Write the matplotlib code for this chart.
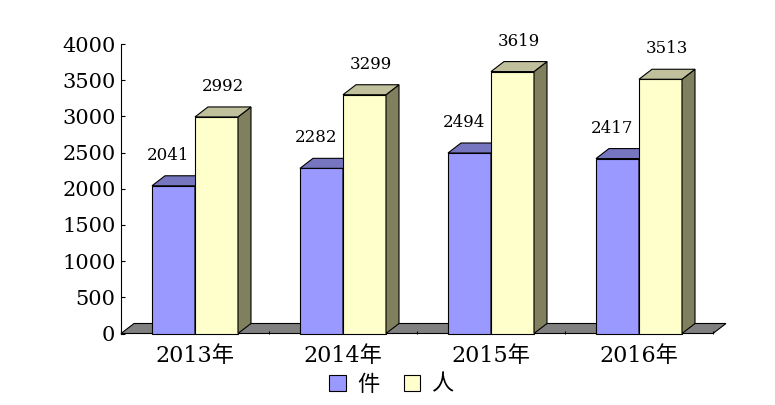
import matplotlib
matplotlib.use("Agg")
import matplotlib.pyplot as plt
from matplotlib.patches import Polygon, Patch

# --- data ---
years = ["2013年", "2014年", "2015年", "2016年"]
series_names = ["件", "人"]
cases = [2041, 2282, 2494, 2417]
people = [2992, 3299, 3619, 3513]
y_ticks = [0, 500, 1000, 1500, 2000, 2500, 3000, 3500, 4000]

# --- style ---
FRONT = ["#9999ff", "#ffffcc"]
TOP = ["#7676c0", "#c0c09c"]
SIDE = ["#80805f", "#80805f"]
FLOOR = "#808080"
SERIF = "DejaVu Serif"
MIXED = ["DejaVu Serif", "Noto Sans CJK SC"]

W, H = 775, 405
fig = plt.figure(figsize=(W / 100, H / 100), dpi=100)
ax = fig.add_axes([121 / W, (H - 333.5) / H, 592 / W, 289.5 / H])
ax.set_xlim(0, len(years))
ax.set_ylim(0, 4000)

# depth of the fake 3D look, in data units (about 13 px right, 10 px up)
ddx = 13 / 148
ddy = 10 / 289.5 * 4000

lw = 0.8
# floor
floor = Polygon([(0, 0), (len(years), 0), (len(years) + ddx, ddy), (ddx, ddy)],
                closed=True, facecolor=FLOOR, edgecolor="black", lw=lw,
                clip_on=False, zorder=1)
ax.add_patch(floor)

bw = 0.2905
for k, vals in enumerate([cases, people]):
    lefts = [i + 0.5 - bw + k * bw for i in range(len(years))]
    ax.bar(lefts, vals, width=bw, align="edge", color=FRONT[k],
           edgecolor="black", lw=lw, zorder=2 + k, clip_on=False)
    for x0, h in zip(lefts, vals):
        x1 = x0 + bw
        top = Polygon([(x0, h), (x1, h), (x1 + ddx, h + ddy), (x0 + ddx, h + ddy)],
                      closed=True, facecolor=TOP[k], edgecolor="black", lw=lw,
                      clip_on=False, zorder=2 + k)
        side = Polygon([(x1, 0), (x1 + ddx, ddy), (x1 + ddx, h + ddy), (x1, h)],
                       closed=True, facecolor=SIDE[k], edgecolor="black", lw=lw,
                       clip_on=False, zorder=2 + k)
        ax.add_patch(side)
        ax.add_patch(top)
        off = -4 if k == 0 else 4.5
        ax.annotate(f"{h}", xy=(x0 + bw / 2, h), xytext=(off, 22),
                    textcoords="offset points", ha="center", va="center",
                    fontsize=12, family=SERIF, color="black", zorder=5)

# axes
for s in ["top", "right", "bottom"]:
    ax.spines[s].set_visible(False)
ax.spines["left"].set_linewidth(lw)
ax.set_yticks(y_ticks)
ax.set_yticklabels([str(t) for t in y_ticks], family=SERIF, fontsize=15)
ax.tick_params(axis="y", direction="in", length=3, width=lw, pad=4)

ax.set_xticks([i + 0.5 for i in range(len(years))])
ax.set_xticklabels(years, family=MIXED, fontsize=16)
ax.set_xticks(range(len(years) + 1), minor=True)
ax.tick_params(axis="x", which="major", length=0, pad=8)
ax.tick_params(axis="x", which="minor", direction="in", length=2.5, width=lw)
ax.patch.set_visible(False)

handles = [Patch(facecolor=FRONT[k], edgecolor="black", lw=lw) for k in range(2)]
fig.legend(handles, series_names, loc="center", bbox_to_anchor=(0.505, 0.05),
           ncol=2, frameon=False, prop={"family": MIXED, "size": 16},
           handlelength=0.75, handleheight=0.75, handletextpad=0.5,
           columnspacing=1.1, borderaxespad=0)

fig.savefig("out.png", dpi=100)
